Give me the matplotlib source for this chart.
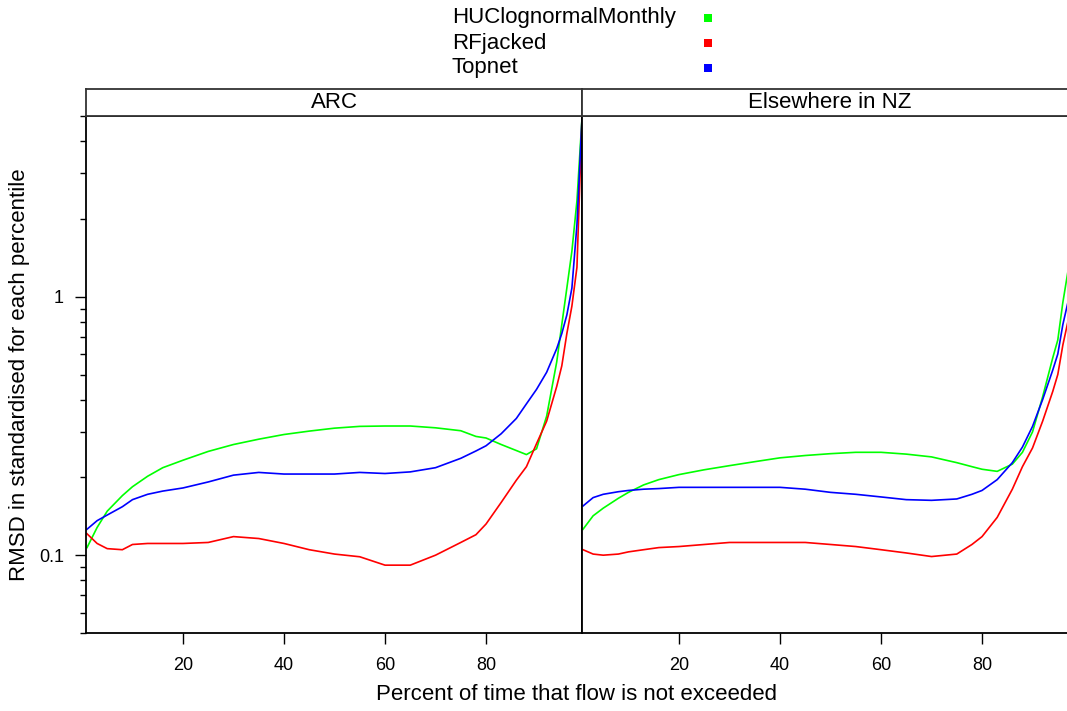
import matplotlib
matplotlib.use("Agg")
import numpy as np
from matplotlib import pyplot as plt
from matplotlib.patches import Rectangle

plt.rcParams['font.family'] = ['Liberation Sans', 'DejaVu Sans']

percentiles = [1, 3, 5, 8, 10, 13, 16, 20, 25, 30, 35, 40, 45, 50, 55, 60, 65, 70,
               75, 78, 80, 83, 86, 88, 90, 92, 94, 95, 96, 97, 98, 99]

series_names = ["HUClognormalMonthly", "RFjacked", "Topnet"]
series_colors = ["#00ff00", "#ff0000", "#0000ff"]
panel_names = ["ARC", "Elsewhere in NZ"]

# ARC panel
arc_huc = [0.107, 0.128, 0.148, 0.170, 0.184, 0.202, 0.218, 0.233, 0.252, 0.268, 0.281,
           0.293, 0.302, 0.310, 0.315, 0.316, 0.316, 0.311, 0.303, 0.288, 0.284, 0.268,
           0.254, 0.245, 0.258, 0.345, 0.56, 0.78, 1.08, 1.5, 2.35, 4.9]
arc_rf = [0.121, 0.111, 0.106, 0.105, 0.110, 0.111, 0.111, 0.111, 0.112, 0.118, 0.116,
          0.111, 0.105, 0.101, 0.0986, 0.0915, 0.0915, 0.100, 0.112, 0.120, 0.132, 0.160,
          0.195, 0.220, 0.270, 0.33, 0.45, 0.54, 0.72, 0.92, 1.30, 4.9]
arc_topnet = [0.126, 0.136, 0.143, 0.154, 0.164, 0.172, 0.177, 0.182, 0.192, 0.204, 0.209,
              0.206, 0.206, 0.206, 0.209, 0.207, 0.210, 0.218, 0.237, 0.253, 0.265, 0.295,
              0.338, 0.385, 0.438, 0.51, 0.63, 0.72, 0.85, 1.08, 1.9, 4.9]

# Elsewhere in NZ panel
nz_huc = [0.126, 0.142, 0.152, 0.166, 0.175, 0.187, 0.196, 0.205, 0.214, 0.222, 0.230,
          0.238, 0.243, 0.247, 0.250, 0.250, 0.246, 0.240, 0.228, 0.220, 0.215, 0.211,
          0.225, 0.250, 0.30, 0.41, 0.58, 0.68, 0.95, 1.25, 1.6, 2.0]
nz_rf = [0.105, 0.101, 0.100, 0.101, 0.103, 0.105, 0.107, 0.108, 0.110, 0.112, 0.112,
         0.112, 0.112, 0.110, 0.108, 0.105, 0.102, 0.0988, 0.101, 0.110, 0.118, 0.140,
         0.180, 0.220, 0.26, 0.33, 0.43, 0.50, 0.65, 0.80, 0.98, 1.2]
nz_topnet = [0.155, 0.167, 0.172, 0.176, 0.178, 0.180, 0.181, 0.183, 0.183, 0.183, 0.183,
             0.183, 0.180, 0.175, 0.172, 0.168, 0.164, 0.163, 0.165, 0.172, 0.178, 0.196,
             0.228, 0.262, 0.315, 0.40, 0.52, 0.60, 0.78, 0.95, 1.15, 1.4]

panel_data = [[arc_huc, arc_rf, arc_topnet], [nz_huc, nz_rf, nz_topnet]]

W, H = 1067, 711
fig = plt.figure(figsize=(W / 100, H / 100), dpi=100)

pw = 496 / W
ph = 517 / H
pb = (H - 633) / H
strip_h = 27 / H
lefts = [86 / W, 582 / W]

minor = [v * d for d in [0.01, 0.1, 1] for v in range(2, 10)]
minor = [m for m in minor if 0.05 <= m <= 5.0]

for pi, name in enumerate(panel_names):
    ax = fig.add_axes([lefts[pi], pb, pw, ph])
    for si, vals in enumerate(panel_data[pi]):
        ax.plot(percentiles, vals, color=series_colors[si], lw=1.2)
    ax.set_yscale("log")
    ax.set_xlim(0.8, 99)
    ax.set_ylim(0.05, 5.0)
    ax.set_xticks([20, 40, 60, 80])
    ax.set_xticklabels(["20", "40", "60", "80"])
    ax.tick_params(axis="x", direction="out", length=8, width=1, pad=9, labelsize=13)
    if pi == 0:
        ax.set_yticks([0.1, 1])
        ax.set_yticklabels(["0.1", "1"])
        ax.set_yticks(minor, minor=True)
        ax.yaxis.set_minor_formatter(matplotlib.ticker.NullFormatter())
        ax.tick_params(axis="y", which="major", direction="out", length=8, width=1,
                       pad=8, labelsize=13)
        ax.tick_params(axis="y", which="minor", direction="out", length=4.5, width=1)
    else:
        ax.set_yticks([])
        ax.set_yticks([], minor=True)
    for sp in ax.spines.values():
        sp.set_linewidth(1.3)

    sax = fig.add_axes([lefts[pi], pb + ph, pw, strip_h])
    sax.set_xticks([])
    sax.set_yticks([])
    for sp in sax.spines.values():
        sp.set_linewidth(1.3)
        sp.set_color("#333333")
    sax.text(0.5, 0.5, name, transform=sax.transAxes, ha="center", va="center",
             fontsize=16)

fig.text(577 / W, 1 - 695 / H, "Percent of time that flow is not exceeded",
         ha="center", va="center", fontsize=16)
fig.text(20 / W, 1 - 375 / H, "RMSD in standardised for each percentile",
         ha="center", va="center", rotation=90, fontsize=16)

# legend keys
rows = [18, 43, 68]
for si, name in enumerate(series_names):
    fig.text(452 / W, 1 - rows[si] / H, name, ha="left", va="center", fontsize=16)
    fig.add_artist(Rectangle(((708 - 4) / W, 1 - (rows[si] + 4) / H), 8 / W, 8 / H,
                             transform=fig.transFigure, color=series_colors[si], lw=0))

fig.savefig("out.png", dpi=100)
